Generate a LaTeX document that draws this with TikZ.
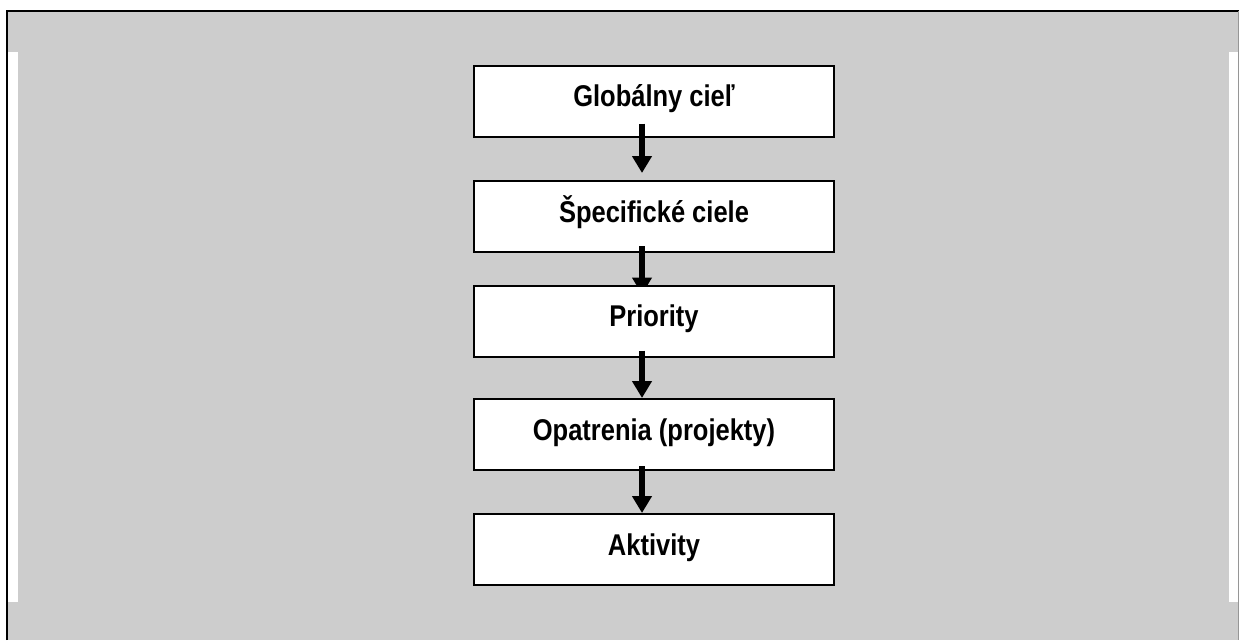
\documentclass[tikz,border=0pt]{standalone}
\usepackage{fontspec}
\setmainfont{Liberation Sans}[FakeStretch=0.85]
\usetikzlibrary{arrows.meta}
\definecolor{fond}{RGB}{205,205,205}
\definecolor{bordgris}{RGB}{150,150,150}

\begin{document}
\begin{tikzpicture}[x=1pt,y=-1pt,
  boite/.style={draw,line width=2pt,fill=white,minimum width=360pt,minimum height=71pt,
    inner sep=0pt,text height=18pt,text depth=7pt,font=\fontsize{30}{34}\selectfont\bfseries},
  fleche/.style={line width=6pt,-{Triangle[width=19pt,length=17pt]}}]
\useasboundingbox (0,0) rectangle (1239,640);
\fill [fond] (7,11) rectangle (1239,640);
\fill [white] (7,52) rectangle (18,602);
\fill [white] (1229,52) rectangle (1238,602);
\draw [line width=2pt] (7,640) -- (7,11) -- (1239,11);
\draw [line width=1pt,bordgris] (1238.5,11) -- (1238.5,640);
% les cinq niveaux
\node [boite] (glob) at (654,101) {Globálny cieľ};
\node [boite] (spec) at (654,216.5) {Špecifické ciele};
\draw [fleche] ([shift={(-12,-14)}]glob.south) -- ([shift={(-12,-7)}]spec.north);
\node [boite] (prio) at (654,321) {Priority};
\begin{scope}
\clip (spec.center -| spec.west) rectangle (prio.north east);
\draw [fleche] ([shift={(-12,-7)}]spec.south) -- ([shift={(-12,10)}]prio.north);
\end{scope}
\node [boite] (opat) at (654,434.5) {Opatrenia (projekty)};
\draw [fleche] ([shift={(-12,-7)}]prio.south) -- ([shift={(-12,0)}]opat.north);
\node [boite] (akti) at (654,549.5) {Aktivity};
\draw [fleche] ([shift={(-12,-5)}]opat.south) -- ([shift={(-12,0)}]akti.north);
\end{tikzpicture}
\end{document}
